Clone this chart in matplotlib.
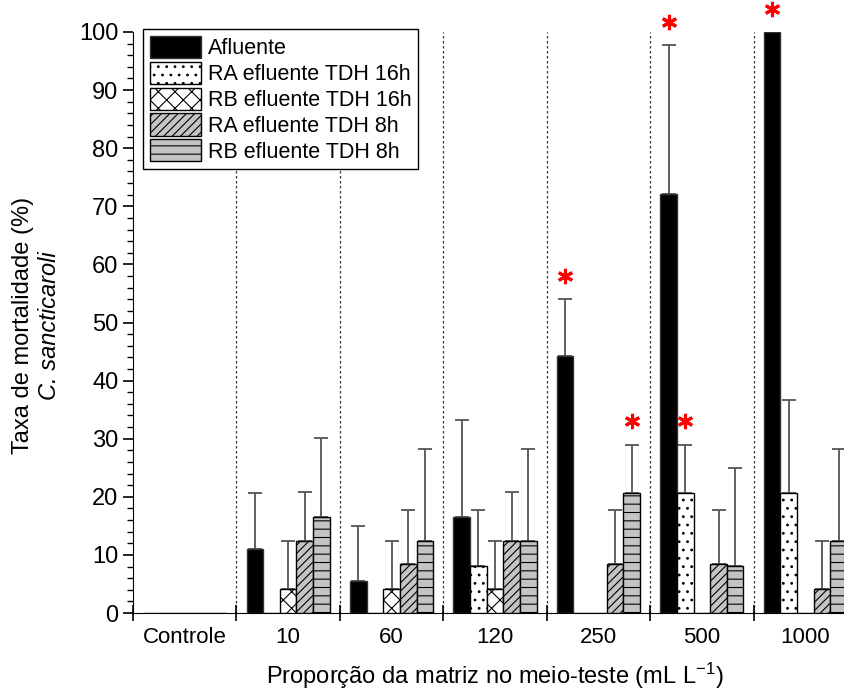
import numpy as np
import matplotlib
matplotlib.use("Agg")
import matplotlib.pyplot as plt
from matplotlib.ticker import MultipleLocator

plt.rcParams['font.family'] = ['Liberation Sans', 'DejaVu Sans']
plt.rcParams['mathtext.fontset'] = 'custom'
plt.rcParams['mathtext.rm'] = 'Liberation Sans'
plt.rcParams['mathtext.default'] = 'regular'
plt.rcParams['hatch.linewidth'] = 0.8

groups = ["Controle", "10", "60", "120", "250", "500", "1000"]
series = ["Afluente", "RA efluente TDH 16h", "RB efluente TDH 16h",
          "RA efluente TDH 8h", "RB efluente TDH 8h"]

afluente = [0, 11.0, 5.5, 16.6, 44.3, 72.2, 100.0]
ra16 = [0, 0, 0, 8.1, 0, 20.6, 20.6]
rb16 = [0, 4.1, 4.1, 4.1, 0, 0, 0]
ra8 = [0, 12.4, 8.4, 12.4, 8.4, 8.4, 4.1]
rb8 = [0, 16.6, 12.4, 12.4, 20.6, 8.1, 12.4]

# upper error (distance above the bar)
afluente_err = [0, 9.6, 9.5, 16.7, 9.7, 25.6, 0]
ra16_err = [0, 0, 0, 9.7, 0, 8.4, 16.1]
rb16_err = [0, 8.3, 8.3, 8.3, 0, 0, 0]
ra8_err = [0, 8.4, 9.4, 8.4, 9.4, 9.4, 8.3]
rb8_err = [0, 13.6, 15.9, 15.9, 8.4, 16.8, 15.9]

# (group index, series index) marked as significant
significant = [(4, 0), (4, 4), (5, 0), (5, 1), (6, 0)]

values = [afluente, ra16, rb16, ra8, rb8]
errors = [afluente_err, ra16_err, rb16_err, ra8_err, rb8_err]
faces = ["black", "white", "white", "#c4c4c4", "#c4c4c4"]
hatches = [None, "..", "xx", "////", "--"]

fig = plt.figure(figsize=(8.45, 6.93), dpi=100)
ax = fig.add_axes([133 / 845, 80 / 693, 724 / 845, 581 / 693])

x = np.arange(len(groups))
w = 0.161

for i in range(5):
    pos = x + (i - 2) * w
    ax.bar(pos, values[i], width=w, color=faces[i], edgecolor="black" if i else "#333333",
           linewidth=1.0, hatch=hatches[i], label=series[i], zorder=3)
    v = np.array(values[i])
    e = np.array(errors[i])
    m = e > 0
    ax.errorbar(pos[m], v[m], yerr=[np.zeros(m.sum()), e[m]], fmt="none",
                ecolor="#555555", elinewidth=1.3, capsize=5, capthick=1.3, zorder=2)

for g, s in significant:
    top = values[s][g] + errors[s][g] + 4
    ax.plot(x[g] + (s - 2) * w, top, marker=(6, 2, 0), color="red", markersize=11,
            markeredgewidth=2.2, clip_on=False, zorder=5)

for b in x[:-1] + 0.5:
    ax.axvline(b, color="#333333", linestyle=(0, (2, 2)), linewidth=0.9, zorder=1)

ax.set_xlim(-0.5, 6.5)
ax.set_ylim(0, 100)
ax.spines["top"].set_visible(False)
ax.spines["right"].set_visible(False)

ax.set_xticks(np.arange(-0.5, 7, 1))
ax.set_xticklabels([])
ax.set_xticks(x, minor=True)
ax.set_xticklabels(groups, minor=True)
ax.tick_params(axis="x", which="major", direction="inout", length=12, width=1.2)
ax.tick_params(axis="x", which="minor", length=0, pad=10, labelsize=16)

ax.yaxis.set_major_locator(MultipleLocator(10))
ax.yaxis.set_minor_locator(MultipleLocator(2))
ax.tick_params(axis="y", which="major", direction="out", length=7, width=1.2, labelsize=17)
ax.tick_params(axis="y", which="minor", direction="out", length=4, width=1)

ax.set_xlabel("Proporção da matriz no meio-teste (mL L$^{-1}$)", fontsize=17, labelpad=9)
fig.text(23 / 845, 0.53, "Taxa de mortalidade (%)", rotation=90, fontsize=17,
         ha="center", va="center")
fig.text(50 / 845, 0.53, "C. sancticaroli", rotation=90, fontsize=17, style="italic",
         ha="center", va="center")

leg = ax.legend(loc="upper left", bbox_to_anchor=(0.008, 1.012), fontsize=15.5,
                frameon=True, fancybox=False, framealpha=1, edgecolor="black",
                handlelength=2.4, handleheight=1.2, labelspacing=0.12,
                handletextpad=0.3, borderpad=0.3, borderaxespad=0.2)
leg.get_frame().set_linewidth(1.0)
leg.set_zorder(10)

fig.savefig("out.png", dpi=100)
